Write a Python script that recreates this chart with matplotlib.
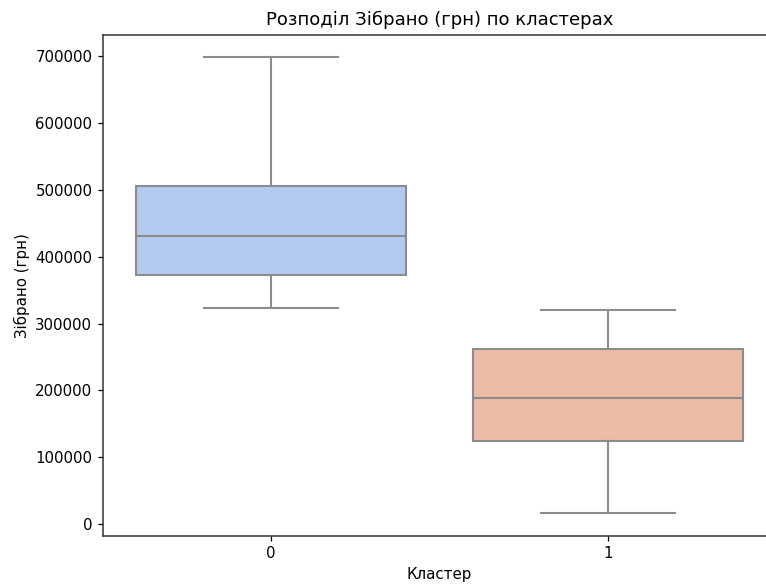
import matplotlib
matplotlib.use("Agg")
import matplotlib.pyplot as plt
import seaborn as sns

clusters = ["0", "1"]
whisker_low = [323000, 16500]
q1 = [372000, 123700]
median = [431500, 188500]
q3 = [506000, 261300]
whisker_high = [698000, 321000]

title = "Розподіл Зібрано (грн) по кластерах"
xlabel = "Кластер"
ylabel = "Зібрано (грн)"

pal = [sns.desaturate(c, 0.75) for c in sns.color_palette("coolwarm", 2)]
line_color = "#8c8c8c"

fig = plt.figure(figsize=(7.66, 5.88), dpi=100)
ax = fig.add_axes([102.5 / 766, 52 / 588, 674 / 766, 501.5 / 588])

stats = []
for i in range(len(clusters)):
    stats.append(dict(whislo=whisker_low[i], q1=q1[i], med=median[i],
                      q3=q3[i], whishi=whisker_high[i], fliers=[], label=clusters[i]))

lw = 1.5
bp = ax.bxp(stats, positions=range(len(clusters)), widths=0.8, patch_artist=True,
            showfliers=False,
            boxprops=dict(edgecolor=line_color, linewidth=lw),
            medianprops=dict(color=line_color, linewidth=lw),
            whiskerprops=dict(color=line_color, linewidth=lw),
            capprops=dict(color=line_color, linewidth=lw))
for patch, c in zip(bp["boxes"], pal):
    patch.set_facecolor(c)

for s in ax.spines.values():
    s.set_linewidth(1.1)
    s.set_color("#333333")

ax.set_xlim(-0.5, 1.5)
lo, hi = min(whisker_low), max(whisker_high)
m = (hi - lo) * 0.05
ax.set_ylim(lo - m, hi + m)
ax.set_yticks(range(0, 700001, 100000))
ax.set_xticks(range(len(clusters)))
ax.set_xticklabels(clusters)
ax.tick_params(labelsize=10.8, length=3.8, width=0.9)
ax.set_title(title, fontsize=13, pad=6.5)
ax.set_xlabel(xlabel, fontsize=10.8, labelpad=4)
ax.set_ylabel(ylabel, fontsize=10.8, labelpad=4)

fig.savefig("out.png", dpi=100)
